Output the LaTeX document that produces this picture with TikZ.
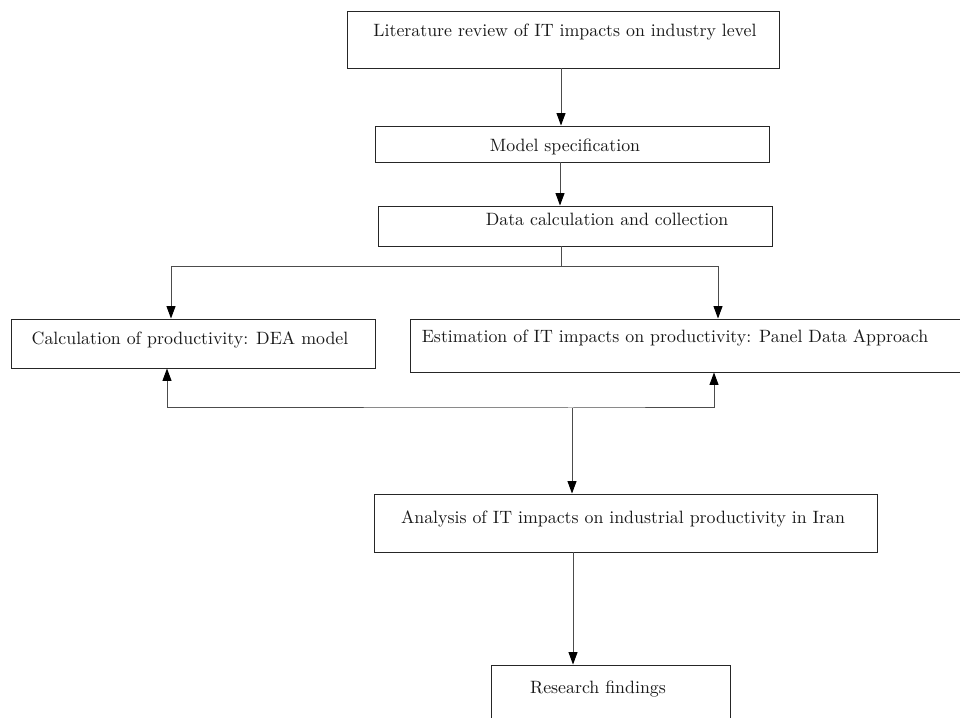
\documentclass[tikz,border=0pt]{standalone}
\usetikzlibrary{arrows.meta,fit}
\begin{document}
\begin{tikzpicture}[x=0.6pt,y=-0.6pt,
  box/.style={draw=black!85,line width=0.55pt,inner sep=0pt,rectangle},
  txt/.style={anchor=base,inner sep=0pt,text=black!90,font=\fontsize{10.7}{12}\selectfont},
  conn/.style={draw=black!70,line width=0.6pt},
  tip/.tip={Triangle[length=7.5pt,width=5.4pt,fill=black,color=black]},
  arr/.style={conn,-tip},
  arrb/.style={conn,tip-tip}]
\clip (0,0) rectangle (960,718);
\fill[white] (0,0) rectangle (960,718);
% boxes
\node[box,fit={(347,11) (779,68)}] (b1) {};
\node[box,fit={(375,126) (769,162)}] (b2) {};
\node[box,fit={(378,206) (772,246)}] (b3) {};
\node[box,fit={(11,319) (375,368)}] (b4) {};
\node[box,fit={(410,319) (990,372)}] (b5) {};
\node[box,fit={(374,494) (877,552)}] (b6) {};
\node[box,fit={(491,665) (730,760)}] (b7) {};
% texts
\node[txt] (t1) at (565,37) {Literature review of IT impacts on industry level};
\node[txt] (t2) at (565,152) {Model specification};
\node[txt] (t3) at (607,226) {Data calculation and collection};
\node[txt] (t4) at (190,345) {Calculation of productivity: DEA model};
\node[txt] (t5) at (675,343) {Estimation of IT impacts on productivity: Panel Data Approach};
\node[txt] (t6) at (623,523) {Analysis of IT impacts on industrial productivity in Iran};
\node[txt] (t7) at (598,693) {Research findings};
% helper x positions
\coordinate (x1) at (561,0);
\coordinate (x2) at (560,0);
\coordinate (xl) at (171,0);
\coordinate (xr) at (718,0);
\coordinate (xll) at (167,0);
\coordinate (xrr) at (714,0);
\coordinate (x6) at (572,0);
\coordinate (x7) at (573,0);
\coordinate (j1) at (561,267);
\coordinate (j2) at (572,408);
% connectors
\draw[arr] (b1.south -| x1) -- (b2.north -| x1);
\draw[arr] (b2.south -| x2) -- (b3.north -| x2);
\draw[conn] (b3.south -| x1) -- (j1);
\draw[arr] (j1) -| (b4.north -| xl);
\draw[arr] (j1) -| (b5.north -| xr);
\draw[arrb] (b4.south -| xll) |- (j2) -| (b5.south -| xrr);
\draw[arr] (j2) -- (b6.north -| x6);
\draw[arr] (b6.south -| x7) -- (b7.north -| x7);
\end{tikzpicture}
\end{document}
